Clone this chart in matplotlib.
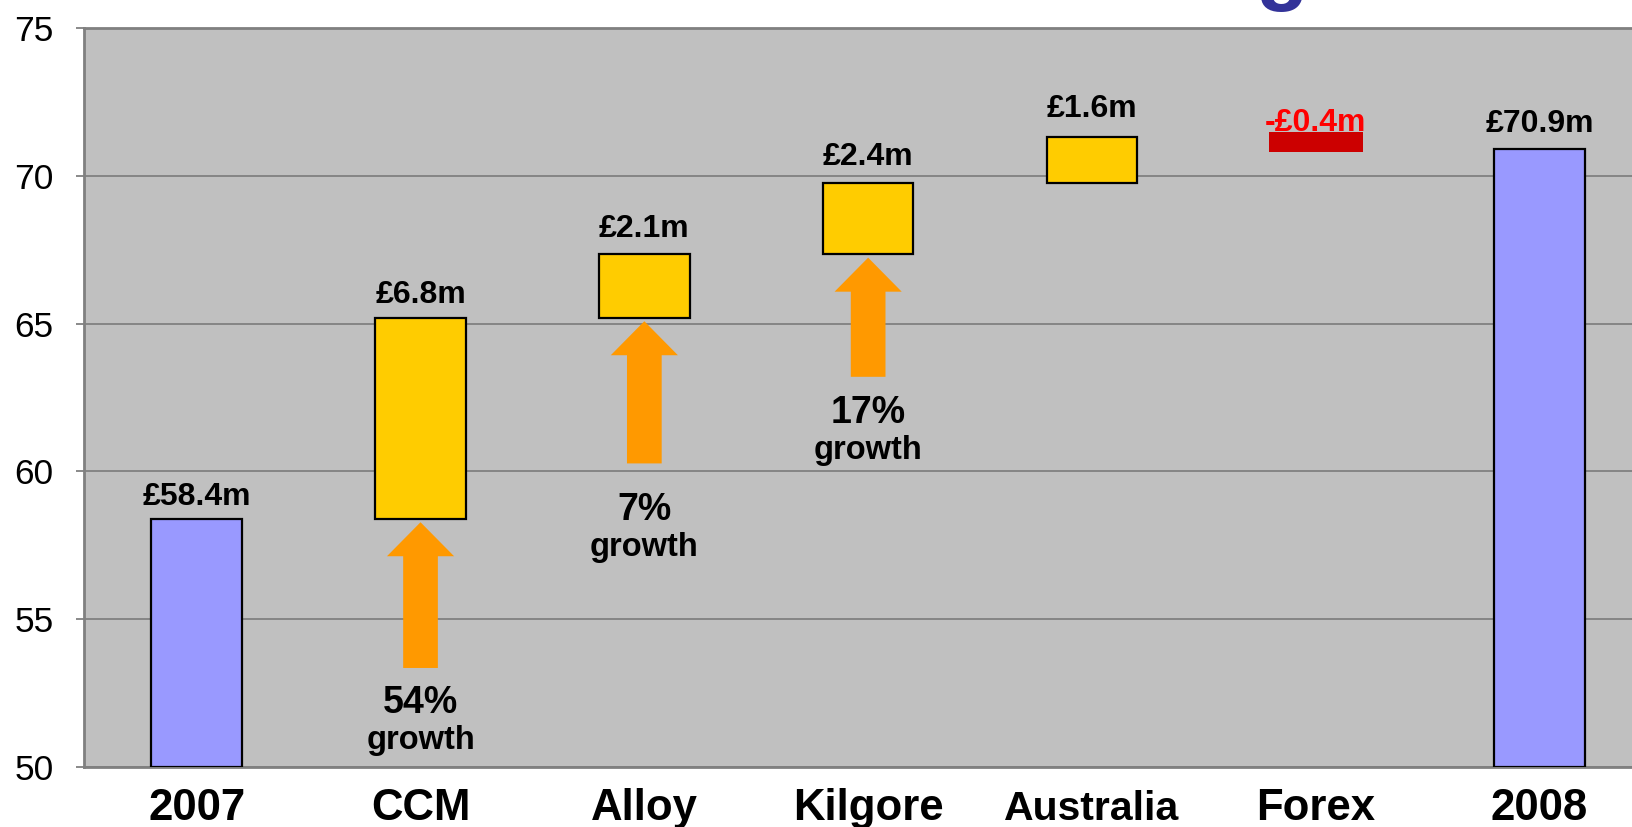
import matplotlib
matplotlib.use("Agg")
import matplotlib.pyplot as plt
from matplotlib.patches import FancyArrow
import matplotlib.transforms as mtransforms

plt.rcParams['font.family'] = ['Liberation Sans', 'DejaVu Sans']

# data (GBP m)
categories = ['2007', 'CCM', 'Alloy', 'Kilgore', 'Australia', 'Forex', '2008']
bar_bottom = [50, 58.4, 65.2, 67.35, 69.75, 70.8, 50]
bar_top = [58.4, 65.2, 67.35, 69.75, 71.3, 71.47, 70.9]
value_labels = ['£58.4m', '£6.8m', '£2.1m', '£2.4m', '£1.6m', '-£0.4m', '£70.9m']
bar_colors = ['#9999FF', '#FFCC00', '#FFCC00', '#FFCC00', '#FFCC00', '#CC0000', '#9999FF']
label_colors = ['black'] * 5 + ['#FF0000', 'black']

# growth arrows
arrow_idx = [1, 2, 3]
arrow_tail = [53.35, 60.27, 63.2]
growth_pct = ['54%', '7%', '17%']

yticks = [50, 55, 60, 65, 70, 75]

# layout
label_gap = [0.45, 0.5, 0.57, 0.6, 0.7, 0.05, 0.58]
pct_gap = [1.53, 1.91, 1.55]
cat_size = [31.5, 31.5, 31.5, 31.5, 29.5, 31.5, 31.5]

fig = plt.figure(figsize=(16.32, 8.27), dpi=100)
ax = fig.add_axes([84 / 1632, 60 / 827, 1 - 84 / 1632, 739 / 827])
ax.set_facecolor('#C0C0C0')

x = range(len(categories))
for i in x:
    h = bar_top[i] - bar_bottom[i]
    if categories[i] == 'Forex':
        ax.bar(i, h, bottom=bar_bottom[i], width=0.42, color=bar_colors[i],
               edgecolor='none', zorder=3)
    else:
        ax.bar(i, h, bottom=bar_bottom[i], width=0.405, color=bar_colors[i],
               edgecolor='black', linewidth=1.6, zorder=3)
    ax.text(i, bar_top[i] + label_gap[i], value_labels[i], ha='center', va='baseline',
            fontsize=23, fontweight='bold', color=label_colors[i], zorder=4)

for k, i in enumerate(arrow_idx):
    tip = bar_bottom[i] - 0.12
    tail = arrow_tail[k]
    ax.add_patch(FancyArrow(i, tail, 0, tip - tail, width=0.155, head_width=0.3,
                            head_length=1.15, length_includes_head=True,
                            color='#FF9900', linewidth=0, zorder=3))
    py = tail - pct_gap[k]
    ax.text(i, py, growth_pct[k], ha='center', va='baseline', fontsize=27,
            fontweight='bold', zorder=4)
    ax.text(i, py - 1.22, 'growth', ha='center', va='baseline', fontsize=23.5,
            fontweight='bold', zorder=4)

ax.set_xlim(-0.5036, 6.413)
ax.set_ylim(50, 75)
ax.set_yticks(yticks)
ax.yaxis.grid(True, color='#808080', linewidth=1.3, zorder=1)
ax.set_axisbelow(True)
ax.tick_params(axis='y', labelsize=25.5, length=6, width=1.3, color='#808080', pad=16)
ax.set_xticks([])
for s in ['left', 'top', 'bottom']:
    ax.spines[s].set_color('#808080')
    ax.spines[s].set_linewidth(2)
ax.spines['right'].set_visible(False)

trans = mtransforms.blended_transform_factory(ax.transData, ax.transAxes)
for i, c in enumerate(categories):
    ax.text(i, -0.0717, c, transform=trans, ha='center', va='baseline',
            fontsize=cat_size[i], fontweight='bold', clip_on=False)

# bottom of a cut-off title glyph
fig.text(1282 / 1632, 1 + 6 / 827, 'g', ha='center', va='baseline', fontsize=62,
         fontweight='bold', color='#333399')

fig.savefig('out.png', dpi=100)
